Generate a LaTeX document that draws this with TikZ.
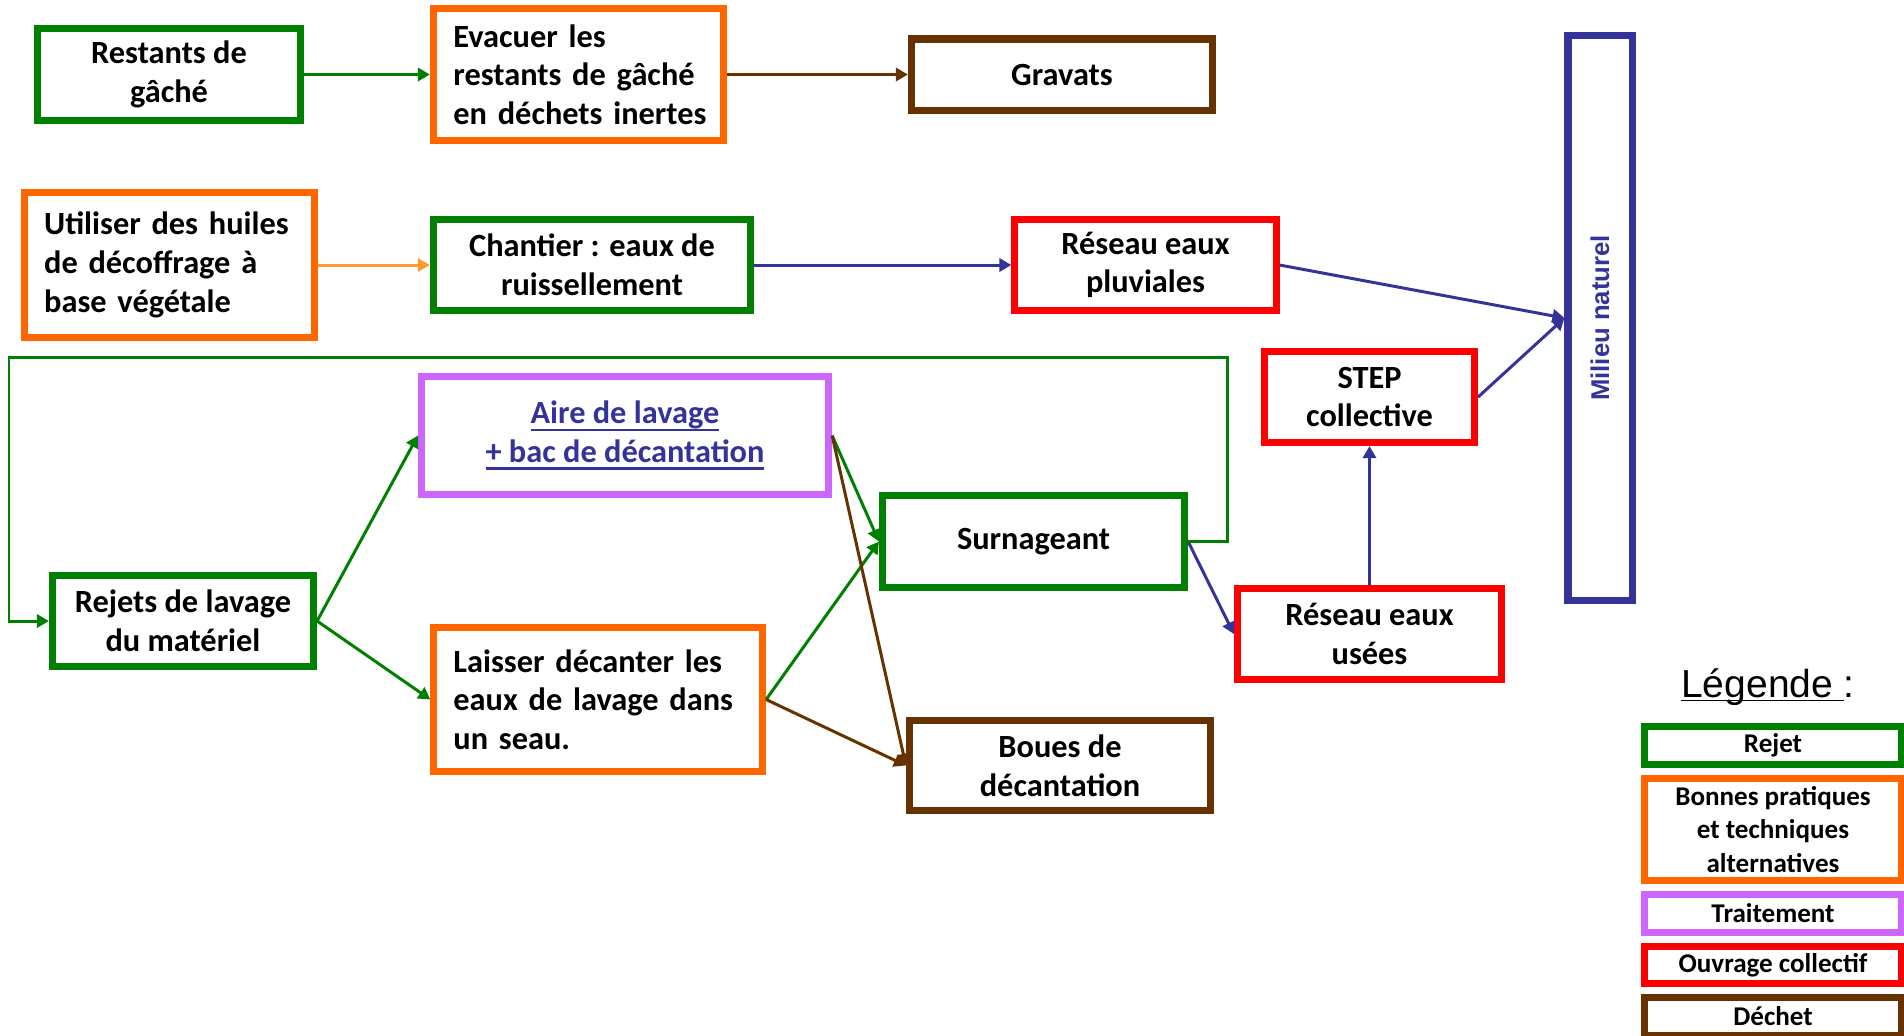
\documentclass[tikz,border=0pt]{standalone}
\usepackage{fontspec}
\setmainfont{Carlito}
\newfontfamily\legendfont{Liberation Sans}
\newfontfamily\milieufont{Liberation Sans Bold}
\usetikzlibrary{arrows.meta}

% soulignement a profondeur fixe : {profondeur}{epaisseur}{texte}
\newcommand\souligne[3]{\setbox0\hbox{#3}\rlap{\rule[-#1]{\wd0}{#2}}\box0}

\definecolor{cRejet}{RGB}{0,128,0}
\definecolor{cPratique}{RGB}{255,102,0}
\definecolor{cTraitement}{RGB}{204,102,255}
\definecolor{cOuvrage}{RGB}{255,0,0}
\definecolor{cDechet}{RGB}{102,51,0}
\definecolor{cEau}{RGB}{51,51,153}
\definecolor{cHuile}{RGB}{255,153,51}

\tikzset{
    boite/.style={draw, line width=2pt, fill=white, inner sep=0pt, align=center,
        font=\fontsize{9.2}{11}\selectfont\bfseries},
    gauche/.style={align=left, inner xsep=0.2cm},
    rejet/.style={boite, draw=cRejet},
    pratique/.style={boite, draw=cPratique},
    traitement/.style={boite, draw=cTraitement},
    ouvrage/.style={boite, draw=cOuvrage},
    dechet/.style={boite, draw=cDechet},
    legende/.style={draw, line width=2pt, inner sep=0pt, align=center, minimum width=2.575cm,
        font=\fontsize{7.7}{9.4}\selectfont\bfseries},
    fleche/.style={line width=0.85pt, -{Triangle[length=3.4pt,width=3.7pt]}},
}

\begin{document}
\begin{tikzpicture}[x=0.01cm, y=-0.01cm]
    \useasboundingbox (0,0) rectangle (1904,1035);

    % ligne du haut
    \node[rejet, minimum width=2.63cm, minimum height=0.92cm] (restants) at (169,74.5) {Restants de\\gâché};
    \node[pratique, gauche, text width=2.5cm, minimum height=1.31cm] (evacuer) at (578.5,74.5) {Evacuer les\\restants de gâché\\\mbox{en déchets inertes}};
    \node[dechet, minimum width=3.01cm, minimum height=0.71cm] (gravats) at (1062,74.5) {Gravats};

    % huiles et ruissellement
    \node[pratique, gauche, text width=2.5cm, minimum height=1.45cm] (huiles) at (169.25,265) {Utiliser des huiles\\de décoffrage à\\base végétale};
    \node[rejet, minimum width=3.17cm, minimum height=0.91cm] (chantier) at (592,265) {Chantier : eaux de\\ruissellement};
    \node[ouvrage, minimum width=2.61cm, minimum height=0.91cm] (pluviales) at (1145.5,265) {Réseau eaux\\pluviales};
    \node[draw=cEau, line width=2pt, inner sep=0pt, minimum width=0.64cm, minimum height=5.65cm] (milieu) at (1600,318)
        {\rotatebox{90}{\milieufont\fontsize{7.3}{9}\selectfont\color{cEau}Milieu naturel}};
    \node[ouvrage, minimum width=2.10cm, minimum height=0.91cm] (step) at (1369.5,397) {STEP\\collective};

    % lavage du materiel
    \node[traitement, minimum width=4.07cm, minimum height=1.18cm, text=cEau] (aire) at (625,435.5) {\souligne{2.05pt}{0.7pt}{Aire de lavage}\\\souligne{2.05pt}{0.7pt}{+ bac de décantation}};
    \node[rejet, minimum width=3.02cm, minimum height=0.92cm] (surnageant) at (1033.5,541.5) {Surnageant};
    \node[rejet, minimum width=2.61cm, minimum height=0.91cm] (rejets) at (183,621) {Rejets de lavage\\du matériel};
    \node[pratique, gauche, inner xsep=0.195cm, text width=2.895cm, minimum height=1.44cm] (seau) at (598.25,699.5) {Laisser décanter les\\eaux de lavage dans\\un seau.};
    \node[ouvrage, minimum width=2.64cm, minimum height=0.91cm] (usees) at (1369.5,634) {Réseau eaux\\usées};
    \node[dechet, minimum width=3.01cm, minimum height=0.90cm] (boues) at (1060,765.5) {Boues de\\décantation};

    \coordinate (retour) at (9,357);

    \draw[fleche, cRejet] (restants.east) -- (evacuer.west);
    \draw[fleche, cDechet] (evacuer.east) -- (gravats.west);
    \draw[fleche, cHuile] (huiles.east) -- (chantier.west);
    \draw[fleche, cEau] (chantier.east) -- (pluviales.west);
    \draw[fleche, cEau] (pluviales.east) -- (milieu.west);
    \draw[fleche, cEau] (step.east) -- (milieu.west);
    \draw[fleche, cEau] (usees.north) -- (step.south);
    \draw[fleche, cEau] (surnageant.east) -- (usees.west);
    \draw[fleche, cRejet] (surnageant.east) -- ++(39,0) |- (retour) |- (rejets.west);
    \draw[fleche, cRejet] (rejets.east) -- (aire.west);
    \draw[fleche, cRejet] (rejets.east) -- (seau.west);
    \draw[fleche, cRejet] (aire.east) -- (surnageant.west);
    \draw[fleche, cRejet] (seau.east) -- (surnageant.west);
    \draw[fleche, cDechet] (aire.east) -- (boues.west);
    \draw[fleche, cDechet] (seau.east) -- (boues.west);

    % legende
    \node[anchor=base, font=\legendfont\fontsize{11.1}{13}\selectfont] (titre) at (1768,697) {\souligne{1.2pt}{0.45pt}{Légende }:};
    \node[legende, draw=cRejet, minimum height=0.38cm] (legRejet) at (1773,745.5) {Rejet};
    \node[legende, draw=cPratique, minimum height=1.02cm] (legPratique) at (1773,829.5) {Bonnes pratiques\\et techniques\\alternatives};
    \node[legende, draw=cTraitement, minimum height=0.38cm] (legTraitement) at (1773,913.5) {Traitement};
    \node[legende, draw=cOuvrage, minimum height=0.37cm] (legOuvrage) at (1773,965) {Ouvrage collectif};
    \node[legende, draw=cDechet, minimum height=0.38cm] (legDechet) at (1773,1016.5) {Déchet};
\end{tikzpicture}
\end{document}
